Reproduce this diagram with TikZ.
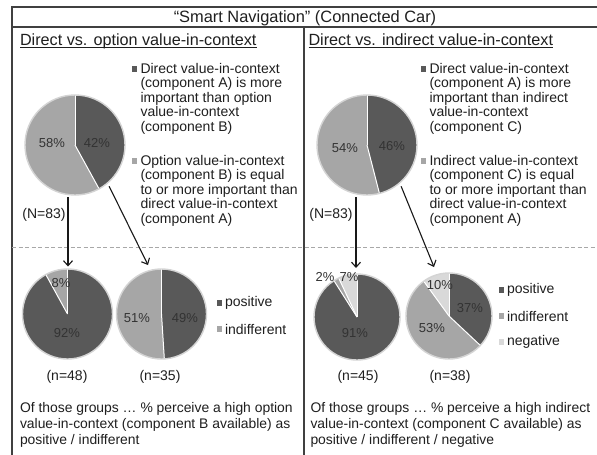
\documentclass[tikz,border=0pt]{standalone}
\usepackage{fontspec}
\setmainfont{Liberation Sans}
\usetikzlibrary{arrows.meta}

\definecolor{posc}{HTML}{595959}
\definecolor{indc}{HTML}{A6A6A6}
\definecolor{negc}{HTML}{D9D9D9}
\definecolor{framec}{HTML}{404040}
\definecolor{txtc}{HTML}{1F1F1F}
\definecolor{rimc}{HTML}{D4D4D4}
\definecolor{dashc}{HTML}{A8A8A8}

% one pie slice: centre x, centre y, radius, start angle, end angle, colour
\newcommand\pieslice[6]{\fill[#6] (#1,#2) -- ++(#4:#3) arc[start angle=#4,end angle=#5,radius=#3] -- cycle;}
% white separator between two slices
\newcommand\piecut[4]{\draw[white,line width=1pt] (#1,#2) -- ++(#4:#3);}
% several lines of text with the first baseline as reference
\newcommand\textlines[1]{\begin{tabular}[t]{@{}l@{}}#1\end{tabular}}

\tikzset{
  framerule/.style={draw=framec,line width=1.1pt},
  dashrule/.style={draw=dashc,line width=0.9pt,dash pattern=on 4pt off 2.5pt},
  pierim/.style={circle,draw=rimc,line width=1.4pt,inner sep=0pt,outer sep=0pt},
  arr/.style={draw=black!90,line width=1.1pt,-{Straight Barb[length=5pt,width=9pt,line width=1.1pt]}},
  txt/.style={inner sep=0pt,outer sep=0pt,text=txtc},
  headtxt/.style={txt,anchor=base west,font=\fontsize{16.2}{19}\selectfont},
  legtxt/.style={txt,anchor=base west,font=\fontsize{14}{14.5}\selectfont},
  bodytxt/.style={txt,anchor=base west,font=\fontsize{13.9}{16}\selectfont},
  keytxt/.style={txt,anchor=west,font=\fontsize{14}{16}\selectfont},
  pcttxt/.style={txt,text=black!80,font=\fontsize{13}{15}\selectfont},
  ntxt/.style={txt,font=\fontsize{14}{16}\selectfont},
  keybox/.style={minimum size=5.5pt,inner sep=0pt,outer sep=0pt},
}

\begin{document}
\begin{tikzpicture}[x=1pt,y=-1pt]
\useasboundingbox[fill=white] (0,0) rectangle (597,455);

% ---- table frame ----
\draw[framerule] (12,455) -- (12,7) -- (597,7);
\draw[framerule] (12,27) -- (597,27);
\draw[framerule] (304,27) -- (304,455);
\draw[dashrule] (12,247) -- (597,247);

% ---- headings ----
\node[txt,anchor=base,font=\fontsize{16.4}{19}\selectfont] (title) at (305,22.5) {“Smart Navigation” (Connected Car)};
\node[headtxt] (headL) at (20,45.5) {Direct vs. option value-in-context};
\node[headtxt] (headR) at (308.5,45.5) {Direct vs. indirect value-in-context};
\draw[txtc,line width=0.8pt] ([yshift=-2pt]headL.base west) -- ([yshift=-2pt]headL.base east);
\draw[txtc,line width=0.8pt] ([yshift=-2pt]headR.base west) -- ([yshift=-2pt]headR.base east);

% ---- upper left pie: 42% / 58% ----
\pieslice{75}{145}{50}{-90}{61.2}{posc}
\pieslice{75}{145}{50}{61.2}{270}{indc}
\piecut{75}{145}{50}{-90}\piecut{75}{145}{50}{61.2}
\node[pierim,minimum size=100pt] (p1) at (75,145) {};
\node[pcttxt] (p1a) at (52,143) {58\%};
\node[pcttxt] (p1b) at (97,143) {42\%};

% ---- upper right pie: 46% / 54% ----
\pieslice{367}{145}{50}{-90}{75.6}{posc}
\pieslice{367}{145}{50}{75.6}{270}{indc}
\piecut{367}{145}{50}{-90}\piecut{367}{145}{50}{75.6}
\node[pierim,minimum size=100pt] (p2) at (367,145) {};
\node[pcttxt] (p2a) at (345,148) {54\%};
\node[pcttxt] (p2b) at (392,146) {46\%};

% ---- upper legends ----
\node[keybox,fill=posc] (kL1) at (134.5,69) {};
\node[legtxt] (lL1) at (140.5,73) {\textlines{Direct value-in-context\\(component A) is more\\important than option\\value-in-context\\(component B)}};
\node[keybox,fill=indc] (kL2) at (134.5,161) {};
\node[legtxt] (lL2) at (140.5,165) {\textlines{Option value-in-context\\(component B) is equal\\to or more important than\\direct value-in-context\\(component A)}};
\node[keybox,fill=posc] (kR1) at (423.5,69) {};
\node[legtxt] (lR1) at (429.5,73) {\textlines{Direct value-in-context\\(component A) is more\\important than indirect\\value-in-context\\(component C)}};
\node[keybox,fill=indc] (kR2) at (423.5,161) {};
\node[legtxt] (lR2) at (429.5,165) {\textlines{Indirect value-in-context\\(component C) is equal\\to or more important than\\direct value-in-context\\(component A)}};

\node[ntxt] (nL) at (44,215) {(N=83)};
\node[ntxt] (nR) at (331,215) {(N=83)};

% ---- lower left pies ----
\pieslice{67.5}{314}{45}{-90}{241.2}{posc}
\pieslice{67.5}{314}{45}{241.2}{270}{indc}
\piecut{67.5}{314}{45}{-90}\piecut{67.5}{314}{45}{241.2}
\node[pierim,minimum size=90pt] (p3) at (67.5,314) {};
\node[pcttxt] (p3a) at (61,283) {8\%};
\node[pcttxt] (p3b) at (67,333) {92\%};

\pieslice{161.5}{314}{45}{-90}{86.4}{posc}
\pieslice{161.5}{314}{45}{86.4}{270}{indc}
\piecut{161.5}{314}{45}{-90}\piecut{161.5}{314}{45}{86.4}
\node[pierim,minimum size=90pt] (p4) at (161.5,314) {};
\node[pcttxt] (p4a) at (137,318) {51\%};
\node[pcttxt] (p4b) at (185,318) {49\%};

\node[keybox,fill=posc] (kLp) at (219.5,303) {};
\node[keytxt] (tLp) at (225,303) {positive};
\node[keybox,fill=indc] (kLi) at (219.5,329) {};
\node[keytxt] (tLi) at (225,329) {indifferent};

\node[ntxt] (n48) at (67,377) {(n=48)};
\node[ntxt] (n35) at (160,377) {(n=35)};

% ---- lower right pies ----
\pieslice{357}{317}{43}{-90}{237.6}{posc}
\pieslice{357}{317}{43}{237.6}{244.8}{indc}
\pieslice{357}{317}{43}{244.8}{270}{negc}
\piecut{357}{317}{43}{-90}\piecut{357}{317}{43}{237.6}\piecut{357}{317}{43}{244.8}
\node[pierim,minimum size=86pt] (p5) at (357,317) {};
\node[pcttxt] (p5a) at (325,277) {2\%};
\node[pcttxt] (p5b) at (349,277) {7\%};
\node[pcttxt] (p5c) at (355,333) {91\%};

\pieslice{449}{316}{43}{-90}{43.2}{posc}
\pieslice{449}{316}{43}{43.2}{234}{indc}
\pieslice{449}{316}{43}{234}{270}{negc}
\piecut{449}{316}{43}{-90}\piecut{449}{316}{43}{43.2}\piecut{449}{316}{43}{234}
\node[pierim,minimum size=86pt] (p6) at (449,316) {};
\node[pcttxt] (p6a) at (440,285) {10\%};
\node[pcttxt] (p6b) at (470,308) {37\%};
\node[pcttxt] (p6c) at (432,328) {53\%};

\node[keybox,fill=posc] (kRp) at (501.5,290) {};
\node[keytxt] (tRp) at (507,290) {positive};
\node[keybox,fill=indc] (kRi) at (501.5,316) {};
\node[keytxt] (tRi) at (507,316) {indifferent};
\node[keybox,fill=negc] (kRn) at (501.5,342) {};
\node[keytxt] (tRn) at (507,342) {negative};

\node[ntxt] (n45) at (358,377) {(n=45)};
\node[ntxt] (n38) at (450,377) {(n=38)};

% ---- arrows from the split pies to the group pies ----
\draw[arr] ([xshift=-7pt,yshift=-2pt]p1.south) -- ([xshift=0.5pt,yshift=2.5pt]p3.north);
\draw[arr] ([xshift=2pt,yshift=-3pt]p1.-50) -- ([xshift=-13.5pt,yshift=4pt]p4.north);
\draw[arr] ([xshift=-11pt,yshift=-2pt]p2.south) -- ([xshift=-1pt,yshift=6pt]p5.north);
\draw[arr] ([xshift=2pt,yshift=-3pt]p2.-50) -- ([xshift=-15pt,yshift=6pt]p6.north);

% ---- closing remarks ----
\node[bodytxt] (sumL) at (20,412) {\textlines{Of those groups … \% perceive a high option\\value-in-context (component B available) as\\positive / indifferent}};
\node[bodytxt] (sumR) at (310.5,412) {\textlines{Of those groups … \% perceive a high indirect\\value-in-context (component C available) as\\positive / indifferent / negative}};
\end{tikzpicture}
\end{document}
